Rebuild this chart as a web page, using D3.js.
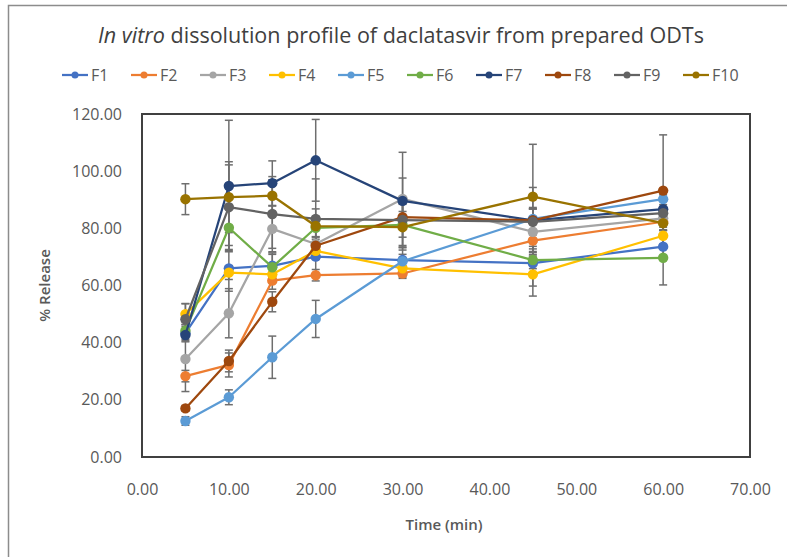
<!DOCTYPE html>
<html>
<head>
<meta charset="utf-8">
<script src="https://cdn.jsdelivr.net/npm/d3@7"></script>
<style>
  html, body { margin: 0; padding: 0; background: #fff; }
  svg { display: block; }
  text { font-family: "Open Sans", "Liberation Sans", sans-serif; }
</style>
</head>
<body>
<svg id="chart" width="787" height="557"></svg>
<script>
// ---------- data ----------
const times = [5, 10, 15, 20, 30, 45, 60];
const seriesNames = ["F1", "F2", "F3", "F4", "F5", "F6", "F7", "F8", "F9", "F10"];
const seriesColors = ["#4472C4", "#ED7D31", "#A5A5A5", "#FFC000", "#5B9BD5", "#70AD47", "#264478", "#9E480E", "#636363", "#997300"];

const F1 = [43.3, 66.0, 66.9, 70.1, 68.9, 67.8, 73.6];
const F2 = [28.3, 32.2, 61.7, 63.6, 64.2, 75.7, 82.3];
const F3 = [34.3, 50.3, 79.8, 74.5, 90.3, 78.8, 83.5];
const F4 = [50.0, 64.5, 63.9, 72.1, 66.0, 63.9, 77.4];
const F5 = [12.6, 20.9, 34.9, 48.3, 68.5, 83.3, 90.2];
const F6 = [44.2, 80.2, 66.4, 80.2, 81.2, 68.9, 69.7];
const F7 = [42.7, 94.8, 95.8, 103.8, 89.6, 82.8, 86.7];
const F8 = [17.0, 33.6, 54.3, 73.9, 83.9, 82.8, 93.2];
const F9 = [48.2, 87.4, 85.0, 83.3, 82.9, 82.3, 85.3];
const F10 = [90.2, 90.9, 91.4, 80.8, 80.4, 91.1, 81.8];

const F1err = [3.0, 8.0, 4.0, 7.0, 2.0, 8.0, 4.0];
const F2err = [2.0, 4.2, 3.0, 2.0, 1.7, 2.0, 3.0];
const F3err = [11.4, 8.6, 8.0, 5.0, 16.3, 8.0, 4.0];
const F4err = [3.6, 2.4, 3.0, 3.0, 3.0, 7.6, 3.0];
const F5err = [1.5, 2.6, 7.4, 6.5, 5.0, 4.0, 3.0];
const F6err = [3.0, 8.0, 5.0, 4.0, 8.0, 3.0, 9.5];
const F7err = [2.0, 23.0, 7.8, 14.3, 8.0, 4.0, 5.0];
const F8err = [1.0, 3.8, 3.5, 3.0, 2.0, 4.0, 19.5];
const F9err = [5.5, 14.8, 12.0, 14.0, 6.0, 12.0, 3.0];
const F10err = [5.4, 12.4, 6.7, 6.0, 8.0, 18.3, 4.0];

const xTicks = [0, 10, 20, 30, 40, 50, 60, 70];
const yTicks = [0, 20, 40, 60, 80, 100, 120];

const values = [F1, F2, F3, F4, F5, F6, F7, F8, F9, F10];
const errors = [F1err, F2err, F3err, F4err, F5err, F6err, F7err, F8err, F9err, F10err];

const series = seriesNames.map((name, i) => ({
  name, color: seriesColors[i],
  points: times.map((t, j) => ({ t, v: values[i][j], e: errors[i][j] }))
}));

// ---------- layout ----------
const svg = d3.select("#chart");
const plot = { left: 142, right: 750, top: 114, bottom: 457 };

const x = d3.scaleLinear().domain([0, 70]).range([plot.left, plot.right]);
const y = d3.scaleLinear().domain([0, 120]).range([plot.bottom, plot.top]);

// outer chart frame
svg.append("rect")
  .attr("x", 8.5).attr("y", 5.5).attr("width", 900).attr("height", 700)
  .attr("fill", "#fff").attr("stroke", "#8c8c8c").attr("stroke-width", 1.5);

// title
const title = svg.append("text")
  .attr("x", 401).attr("y", 43)
  .attr("text-anchor", "middle")
  .attr("font-size", 21)
  .attr("textLength", 606).attr("lengthAdjust", "spacingAndGlyphs")
  .attr("fill", "#404040");
title.append("tspan").attr("font-style", "italic").text("In vitro");
title.append("tspan").text(" dissolution profile of daclatasvir from prepared ODTs");

// legend
const legend = svg.append("g");
const legItems = legend.selectAll("g").data(series).enter().append("g")
  .attr("transform", (d, i) => `translate(${62 + i * 69},75)`);
legItems.append("line").attr("x1", 0).attr("x2", 26).attr("y1", 0).attr("y2", 0)
  .attr("stroke", d => d.color).attr("stroke-width", 2.25);
legItems.append("circle").attr("cx", 13).attr("cy", 0).attr("r", 3.5).attr("fill", d => d.color);
legItems.append("text").attr("x", 29).attr("y", 6)
  .attr("font-size", 16).attr("fill", "#595959").text(d => d.name);

// axes
const fmt = d3.format(".2f");
const yAxis = svg.append("g")
  .attr("transform", `translate(${plot.left},0)`)
  .call(d3.axisLeft(y).tickValues(yTicks).tickSize(0).tickPadding(20).tickFormat(fmt));
const xAxis = svg.append("g")
  .attr("transform", `translate(0,${plot.bottom})`)
  .call(d3.axisBottom(x).tickValues(xTicks).tickSize(0).tickPadding(27).tickFormat(fmt));
[xAxis, yAxis].forEach(a => {
  a.select(".domain").remove();
  a.selectAll("text").attr("font-size", 16).attr("fill", "#595959")
    .attr("font-family", "'Open Sans', 'Liberation Sans', sans-serif");
});

// axis titles
svg.append("text")
  .attr("transform", `translate(50,${(plot.top + plot.bottom) / 2}) rotate(-90)`)
  .attr("text-anchor", "middle").attr("font-size", 15).attr("font-weight", 600)
  .attr("fill", "#595959").text("% Release");
svg.append("text")
  .attr("x", (plot.left + plot.right) / 2 - 2).attr("y", 530)
  .attr("text-anchor", "middle").attr("font-size", 15).attr("font-weight", 600)
  .attr("fill", "#595959").text("Time (min)");

// error bars
const eb = svg.append("g").attr("stroke", "#6e6e6e").attr("stroke-width", 1.5).attr("fill", "none");
series.forEach(s => {
  s.points.forEach(p => {
    const cx = x(p.t), y1 = y(p.v + p.e), y2 = y(p.v - p.e);
    eb.append("line").attr("x1", cx).attr("x2", cx).attr("y1", y1).attr("y2", y2);
    eb.append("line").attr("x1", cx - 4).attr("x2", cx + 4).attr("y1", y1).attr("y2", y1);
    eb.append("line").attr("x1", cx - 4).attr("x2", cx + 4).attr("y1", y2).attr("y2", y2);
  });
});

// lines + markers
const line = d3.line().x(d => x(d.t)).y(d => y(d.v));
series.forEach(s => {
  const g = svg.append("g");
  g.append("path").datum(s.points).attr("d", line)
    .attr("fill", "none").attr("stroke", s.color).attr("stroke-width", 2.25)
    .attr("stroke-linejoin", "round");
  g.selectAll("circle").data(s.points).enter().append("circle")
    .attr("cx", d => x(d.t)).attr("cy", d => y(d.v)).attr("r", 5.2)
    .attr("fill", s.color);
});

// plot border
svg.append("rect")
  .attr("x", plot.left).attr("y", plot.top)
  .attr("width", plot.right - plot.left).attr("height", plot.bottom - plot.top)
  .attr("fill", "none").attr("stroke", "#404040").attr("stroke-width", 2);
</script>
</body>
</html>
